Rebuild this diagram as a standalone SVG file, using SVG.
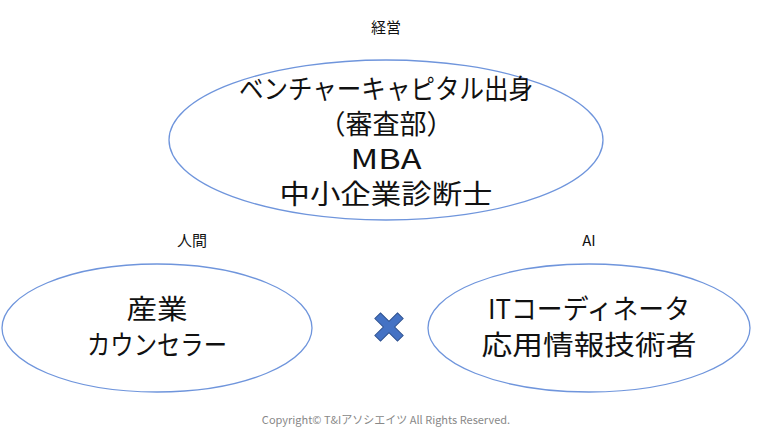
<svg xmlns="http://www.w3.org/2000/svg" width="772" height="432" viewBox="0 0 772 432">
<style>
.e{fill:none;stroke:#6f95dc;stroke-width:1.3}
.t{font-family:"Noto Sans CJK JP","Noto Sans",sans-serif;font-size:27px;fill:#111;text-anchor:middle}
.l{font-family:"Noto Sans CJK JP","Noto Sans",sans-serif;font-size:15px;fill:#111;text-anchor:middle}
</style>
<rect width="772" height="432" fill="#fff"/>
<g id="top"><ellipse class="e" cx="386" cy="140" rx="217" ry="80"/>
<text class="l" x="386" y="33">経営</text>
<text class="t" x="386" y="99" textLength="294" lengthAdjust="spacingAndGlyphs">ベンチャーキャピタル出身</text>
<text class="t" x="386" y="134" textLength="135" lengthAdjust="spacingAndGlyphs">（審査部）</text>
<text class="t" x="386" y="169" textLength="71" lengthAdjust="spacingAndGlyphs">MBA</text>
<text class="t" x="386" y="204" textLength="213" lengthAdjust="spacingAndGlyphs">中小企業診断士</text></g>
<g id="left"><ellipse class="e" cx="157" cy="328" rx="155" ry="64"/>
<text class="l" x="192" y="246">人間</text>
<text class="t" x="157" y="319" textLength="61" lengthAdjust="spacingAndGlyphs">産業</text>
<text class="t" x="157" y="355" textLength="140" lengthAdjust="spacingAndGlyphs">カウンセラー</text></g>
<g id="right"><ellipse class="e" cx="589" cy="328" rx="161" ry="64"/>
<text class="l" x="589" y="246">AI</text>
<text class="t" x="589" y="319" textLength="202" lengthAdjust="spacingAndGlyphs">ITコーディネータ</text>
<text class="t" x="589" y="355" textLength="215" lengthAdjust="spacingAndGlyphs">応用情報技術者</text></g>
<g id="connectors"><path transform="translate(389 327) rotate(45)" d="M-4-16H4V-4H16V4H4V16H-4V4H-16V-4H-4Z" fill="#4472c4" stroke="#2f528f" stroke-width="1"/></g>
<text x="386" y="424" style="font-family:'Noto Sans CJK JP',sans-serif;font-size:11px;fill:#888;text-anchor:middle">Copyright© T&amp;Iアソシエイツ  All Rights Reserved.</text>
</svg>
